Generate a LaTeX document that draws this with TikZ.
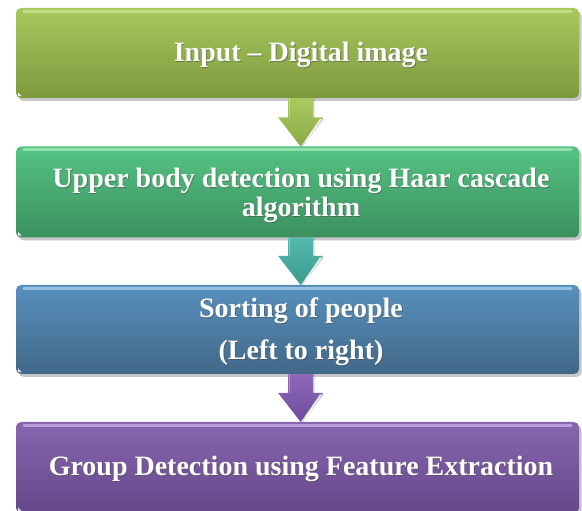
\documentclass[tikz,border=0pt]{standalone}
\usepackage{fontspec}
\setmainfont{Liberation Serif}
\usetikzlibrary{calc}
\definecolor{gA}{HTML}{A8C95E}\definecolor{gB}{HTML}{7C993D}\definecolor{gH}{HTML}{C9E394}
\definecolor{tA}{HTML}{55C383}\definecolor{tB}{HTML}{3B905D}\definecolor{tH}{HTML}{9BE6B6}
\definecolor{bA}{HTML}{5890BD}\definecolor{bB}{HTML}{416888}\definecolor{bH}{HTML}{A3CBEA}
\definecolor{pA}{HTML}{8766AF}\definecolor{pB}{HTML}{664789}\definecolor{pH}{HTML}{C4A6E6}
\definecolor{agA}{HTML}{A9CA60}\definecolor{agB}{HTML}{8BAA46}
\definecolor{atA}{HTML}{55B9AE}\definecolor{atB}{HTML}{3C9A8E}
\definecolor{apA}{HTML}{8E69B9}\definecolor{apB}{HTML}{6F4D9B}
\tikzset{
  box/.style={rounded corners=5pt, minimum width=563pt, inner sep=0pt},
  boxshadow/.style={fill=black, opacity=0.22, rounded corners=5pt},
  label/.style={text=white, font=\fontsize{28}{30}\selectfont\bfseries, align=center, inner sep=0pt},
  labelshadow/.style={text=black!70, opacity=0.55, font=\fontsize{28}{30}\selectfont\bfseries, align=center, inner sep=0pt},
}
\newcommand\flowbox[6]{% name, center y, height, top, bottom, highlight
  \fill[boxshadow] (16+2.5,#2-#3/2-3) rectangle (579+2.5,#2+#3/2-3);
  \node[box, minimum height=#3pt, top color=#4, bottom color=#5] (#1) at (297.5,#2) {};
  \draw[#6, line width=3pt, line cap=round, opacity=0.85] ($(#1.north west)+(8,-3.5)$) -- ($(#1.north east)+(-8,-3.5)$);
  \fill[white, opacity=0.8] ($(#1.south west)+(2,2)$) -- ++(4,0) -- ++(-4,4) -- cycle;
}
\newcommand\flowlabel[3]{% name, y, text
  \node[labelshadow] at (301.8,#2-1.2) {#3};
  \node[label] (#1) at (301,#2) {#3};
}
\newcommand\flowarrow[4]{% from, to, top, bottom
  \fill[black, opacity=0.15] ($(#1.south)+(-8,0)$) -- ($(#1.south)+(17,0)$) -- ($(#2.north)+(17,28)$) -- ($(#2.north)+(27,28)$) -- ($(#2.north)+(4.5,-1)$) -- ($(#2.north)+(-18,28)$) -- ($(#2.north)+(-8,28)$) -- cycle;
  \shade[top color=#3, bottom color=#4] ($(#1.south)+(-9.5,0)$) -- ($(#1.south)+(15.5,0)$) -- ($(#2.north)+(15.5,29)$) -- ($(#2.north)+(25.5,29)$) -- ($(#2.north)+(3,0)$) -- ($(#2.north)+(-19.5,29)$) -- ($(#2.north)+(-9.5,29)$) -- cycle;
  \draw[white, opacity=0.85, line width=1.3pt, line cap=round] ($(#2.north)+(23,27)$) -- ($(#2.north)+(8,5)$);
  \draw[white, opacity=0.3, line width=1pt] ($(#1.south)+(-8.5,0)$) -- ($(#2.north)+(-8.5,29)$);
}
\begin{document}
\begin{tikzpicture}[x=1pt,y=1pt]
\useasboundingbox (0,0) rectangle (582,511);
\fill[white] (0,0) rectangle (582,511);
\begin{scope}
\clip (0,0) rectangle (582,511);
\flowbox{b1}{458}{90}{gA}{gB}{gH}
\flowbox{b2}{319}{91}{tA}{tB}{tH}
\flowbox{b3}{181.5}{89}{bA}{bB}{bH}
\flowbox{b4}{43.5}{91}{pA}{pB}{pH}
\flowarrow{b1}{b2}{agA}{agB}
\flowarrow{b2}{b3}{atA}{atB}
\flowarrow{b3}{b4}{apA}{apB}
\flowlabel{t1}{456}{Input – Digital image}
\flowlabel{t2a}{330}{Upper body detection using Haar cascade}
\flowlabel{t2b}{301}{algorithm}
\flowlabel{t3a}{200}{Sorting of people}
\flowlabel{t3b}{158}{(Left to right)}
\flowlabel{t4}{42}{Group Detection using Feature Extraction}
\end{scope}
\end{tikzpicture}
\end{document}
